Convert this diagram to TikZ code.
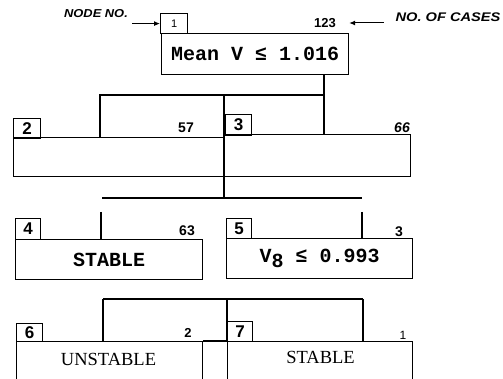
\documentclass[tikz,border=0pt]{standalone}
\usepackage{fontspec}
\setmainfont{Liberation Serif}
\newfontfamily\sansf{Liberation Sans}
\newfontfamily\monof{Liberation Mono}
\usetikzlibrary{arrows.meta}

\begin{document}
\begin{tikzpicture}[x=1pt,y=-1pt,line width=1.2pt,
  numbox/.style={draw,inner sep=0pt,anchor=north west,font=\sansf\bfseries\fontsize{17}{17}\selectfont},
  frame/.style={draw,inner sep=0pt,anchor=north west},
  cnt/.style={inner sep=0pt,font=\sansf\bfseries\fontsize{14}{14}\selectfont},
  mono/.style={font=\monof\bfseries\fontsize{20}{20}\selectfont},
  roman/.style={inner sep=0pt,font=\fontsize{18.5}{18.5}\selectfont},
  hand/.style={inner sep=0pt,font=\sansf\bfseries\itshape\fontsize{11.5}{11.5}\selectfont},
  pointer/.style={line width=1pt,-{Latex[length=6pt,width=5pt]}}]
\useasboundingbox (0,0) rectangle (503,379);
\clip (0,0) rectangle (503,379);

% root node with its legend
\node[numbox,minimum width=27pt,minimum height=20pt,font=\sansf\fontsize{11}{11}\selectfont] (n1) at (160,13) {1};
\node[frame,mono,minimum width=187pt,minimum height=41pt] (f1) at (161,33) {Mean V ≤ 1.016};
\node[cnt,font=\sansf\bfseries\fontsize{13}{13}\selectfont] (c1) at (325,23) {123};
\node[hand] (noteL) at (96,14) {\scalebox{1.12}[1]{NODE NO.}};
\node[hand,anchor=east,font=\sansf\bfseries\itshape\fontsize{12.5}{12.5}\selectfont] (noteR) at (501,17) {\scalebox{1.17}[1]{NO.\ OF CASES}};
\draw[pointer] ([xshift=4pt]noteL.east |- n1.west) -- (n1.west);
\draw[pointer] ([xshift=-11pt]noteR.west |- c1.east) -- (c1.east -| f1.east);

% first split
\node[numbox,minimum width=27pt,minimum height=20pt] (n2) at (13,118) {2};
\node[frame,minimum width=211pt,minimum height=39pt] (f2) at (13,137) {};
\node[cnt] (c2) at (186,128) {57};
\node[frame,minimum width=186pt,minimum height=42pt] (f3) at (224,134) {};
\node[numbox,minimum width=26pt,minimum height=21pt] (n3) at (225,114) {3};
\node[cnt,font=\sansf\bfseries\itshape\fontsize{14}{14}\selectfont] (c3) at (402,128) {66};

\coordinate (s1) at (324,95);
\coordinate (s1l) at (100,95);
\coordinate (s1m) at (224,95);
\draw (f1.south -| s1) -- (s1) -- (s1l) -- (s1l |- f2.north);
\draw (s1) -- (s1 |- f3.north);

% second split
\coordinate (s2) at (224,198);
\coordinate (s2l) at (102,198);
\coordinate (s2r) at (362,198);
\draw (s1m) -- (s2);
\draw (s2l) -- (s2r);

\node[numbox,minimum width=25pt,minimum height=21pt] (n4) at (15,218) {4};
\node[frame,mono,minimum width=187pt,minimum height=40pt] (f4) at (15,239) {STABLE};
\node[cnt] (c4) at (187,231) {63};
\node[numbox,minimum width=25pt,minimum height=20pt] (n5) at (226,218) {5};
\node[frame,mono,minimum width=186pt,minimum height=40pt] (f5) at (226,238)
  {V\raisebox{-5pt}{8} ≤ 0.993};
\node[cnt] (c5) at (399,232) {3};
\coordinate (d4) at (101,212);
\coordinate (d5) at (362,212);
\draw (d4) -- (d4 |- f4.north);
\draw (d5) -- (d5 |- f5.north);

% third split
\coordinate (s3) at (227,299);
\coordinate (s3l) at (103,299);
\coordinate (s3r) at (363,299);
\node[frame,minimum width=186pt,minimum height=50pt] (f6) at (16,341) {};
\node[frame,minimum width=185pt,minimum height=50pt] (f7) at (227,341) {};
\node[numbox,minimum width=26pt,minimum height=18pt] (n6) at (16,323) {6};
\node[numbox,minimum width=25pt,minimum height=20pt] (n7) at (227,321) {7};
\node[cnt,font=\sansf\bfseries\fontsize{13}{13}\selectfont] (c6) at (188,333) {2};
\node[cnt,font=\sansf\fontsize{12}{12}\selectfont] (c7) at (403,335) {1};
\node[roman] (t6) at (108.5,359) {UNSTABLE};
\node[roman] (t7) at (320.5,357.5) {STABLE};
\draw (s3l) -- (s3r);
\draw (s3l) -- (s3l |- f6.north);
\draw (s3r) -- (s3r |- f7.north);
\draw (s3) -- (f7.north west);
\draw (f6.north east) -- (f7.north west);
\end{tikzpicture}
\end{document}
